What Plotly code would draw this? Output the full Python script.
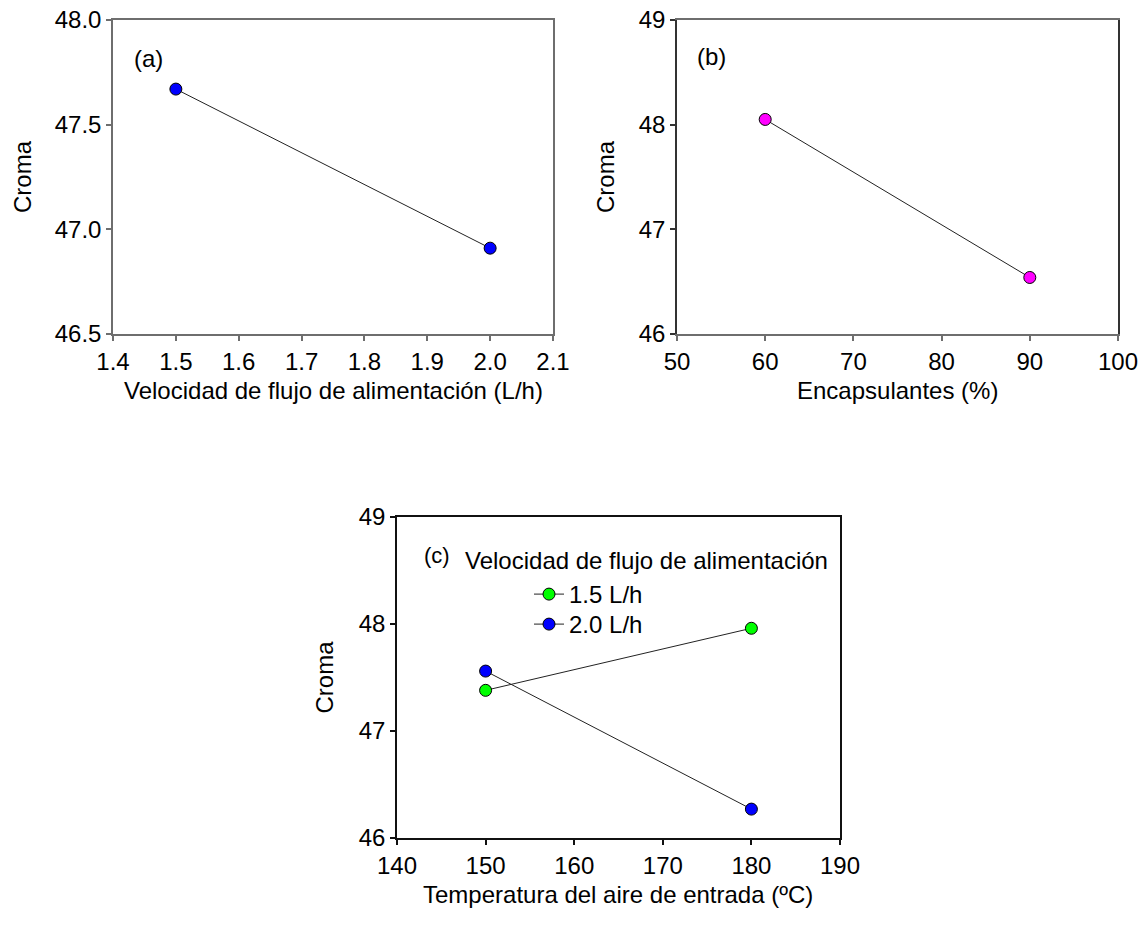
import plotly.graph_objects as go

# ---- data ----
a_flow = [1.5, 2.0]
a_croma = [47.67, 46.91]

b_encaps = [60, 90]
b_croma = [48.05, 46.54]

c_temp = [150, 180]
c_croma_15 = [47.38, 47.96]
c_croma_20 = [47.56, 46.27]

a_xticks = [1.4, 1.5, 1.6, 1.7, 1.8, 1.9, 2.0, 2.1]
a_yticks = [46.5, 47.0, 47.5, 48.0]
b_xticks = [50, 60, 70, 80, 90, 100]
b_yticks = [46, 47, 48, 49]
c_xticks = [140, 150, 160, 170, 180, 190]
c_yticks = [46, 47, 48, 49]

W, H = 1144, 932
FONT = "Liberation Sans, Arial, sans-serif"
FS = 24


def px_x(p):
    return p / W


def px_y(p):
    return 1 - p / H


marker_line = dict(color="black", width=1)
line_style = dict(color="#222222", width=1)

fig = go.Figure()

fig.add_trace(go.Scatter(x=a_flow, y=a_croma, mode="lines+markers",
                         line=line_style,
                         marker=dict(size=12, color="#0000FF", line=marker_line),
                         xaxis="x", yaxis="y", showlegend=False))
fig.add_trace(go.Scatter(x=b_encaps, y=b_croma, mode="lines+markers",
                         line=line_style,
                         marker=dict(size=12, color="#FF00FF", line=marker_line),
                         xaxis="x2", yaxis="y2", showlegend=False))
fig.add_trace(go.Scatter(x=c_temp, y=c_croma_15, mode="lines+markers", name="1.5 L/h",
                         line=line_style,
                         marker=dict(size=12, color="#00FF00", line=marker_line),
                         xaxis="x3", yaxis="y3", legend="legend"))
fig.add_trace(go.Scatter(x=c_temp, y=c_croma_20, mode="lines+markers", name="2.0 L/h",
                         line=line_style,
                         marker=dict(size=12, color="#0000FF", line=marker_line),
                         xaxis="x3", yaxis="y3", legend="legend2"))


def axis(domain, rng, ticks, fmt, color, anchor):
    return dict(domain=domain, range=rng, tickvals=ticks,
                ticktext=[fmt.format(t) for t in ticks],
                ticks="outside", ticklen=5, tickwidth=1.5, tickcolor=color,
                showline=True, linecolor=color, linewidth=1.5, mirror=True,
                showgrid=False, zeroline=False, anchor=anchor, automargin=False,
                tickfont=dict(family=FONT, size=FS, color="black"))


A_TOP, A_BOT = 20, 334
C_TOP, C_BOT = 517, 838
ya_dom = [px_y(A_BOT), px_y(A_TOP)]
yc_dom = [px_y(C_BOT), px_y(C_TOP)]
TITLE_GAP = 56

gray = "#6e6e6e"


def ann(text, x, y, size=FS, xanchor="center", angle=0):
    return dict(text=text, x=px_x(x), y=px_y(y), xref="paper", yref="paper",
                xanchor=xanchor, yanchor="middle", textangle=angle,
                showarrow=False, font=dict(family=FONT, size=size, color="black"))


fig.update_layout(
    template="none",
    width=W, height=H,
    margin=dict(l=0, r=0, t=0, b=0, autoexpand=False),
    paper_bgcolor="white", plot_bgcolor="white",
    font=dict(family=FONT, size=FS, color="black"),
    xaxis=axis([px_x(113), px_x(553)], [1.4, 2.1], a_xticks, "{:.1f}", gray, "y"),
    yaxis=axis(ya_dom, [46.5, 48.0], a_yticks, "{:.1f}", gray, "x"),
    xaxis2=axis([px_x(677), px_x(1118)], [50, 100], b_xticks, "{:d}", gray, "y2"),
    yaxis2=axis(ya_dom, [46, 49], b_yticks, "{:d}", "#333333", "x2"),
    xaxis3=axis([px_x(397), px_x(840)], [140, 190], c_xticks, "{:d}", "#111111", "y3"),
    yaxis3=axis(yc_dom, [46, 49], c_yticks, "{:d}", "#111111", "x3"),
    legend=dict(x=px_x(529), y=px_y(572), xanchor="left", yanchor="top",
                bgcolor="rgba(0,0,0,0)", borderwidth=0,
                font=dict(family=FONT, size=FS, color="black")),
    legend2=dict(x=px_x(529), y=px_y(602), xanchor="left", yanchor="top",
                 bgcolor="rgba(0,0,0,0)", borderwidth=0,
                 font=dict(family=FONT, size=FS, color="black")),
    annotations=[
        # axis titles
        ann("Velocidad de flujo de alimentación (L/h)", 333, A_BOT + TITLE_GAP),
        ann("Encapsulantes (%)", 897, A_BOT + TITLE_GAP),
        ann("Temperatura del aire de entrada (ºC)", 618, C_BOT + TITLE_GAP),
        ann("Croma", 22, (A_TOP + A_BOT) / 2, angle=-90),
        ann("Croma", 605, (A_TOP + A_BOT) / 2, angle=-90),
        ann("Croma", 324, (C_TOP + C_BOT) / 2, angle=-90),
        # panel labels
        ann("(a)", 148, 58),
        ann("(b)", 711, 57),
        ann("(c)", 437, 555, size=22),
        ann("Velocidad de flujo de alimentación", 463, 560, xanchor="left"),
    ],
)

fig.write_html("out.html")
